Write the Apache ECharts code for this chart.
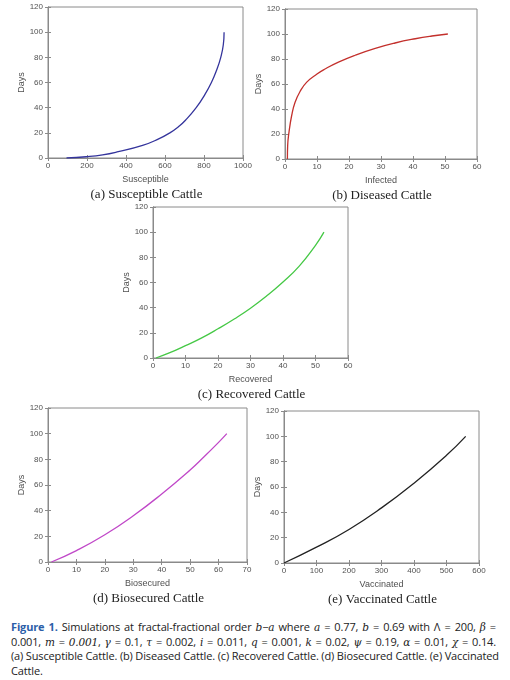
<!DOCTYPE html>
<html>
<head>
<meta charset="utf-8">
<script src="https://cdn.jsdelivr.net/npm/echarts@6/dist/echarts.min.js"></script>
<style>
  html, body { margin: 0; padding: 0; background: #fff; }
  #main { position: absolute; left: 0; top: 0; width: 510px; height: 610px; }
  #caption {
    position: absolute; left: 11px; top: 620px; width: 485px;
    font-family: "Open Sans", "Noto Sans", sans-serif; font-size: 11px;
    line-height: 14.5px; color: #222; letter-spacing: -0.15px;
  }
  #caption div { text-align: justify; text-align-last: justify; white-space: nowrap; }
  #caption div.last { text-align-last: left; }
  #caption b { color: #2b5ea8; }
  #caption i { font-family: "DejaVu Serif", serif; font-size: 10.5px; }
</style>
</head>
<body>
<div id="main"></div>
<div id="caption">
  <div><b>Figure 1.</b> Simulations at fractal-fractional order <i>b</i>−<i>a</i> where <i>a</i> = 0.77, <i>b</i> = 0.69 with Λ = 200, <i>β</i> =</div>
  <div>0.001, <i>m</i> = <i>0.001</i>, <i>γ</i> = 0.1, <i>τ</i> = 0.002, <i>i</i> = 0.011, <i>q</i> = 0.001, <i>k</i> = 0.02, <i>ψ</i> = 0.19, <i>α</i> = 0.01, <i>χ</i> = 0.14.</div>
  <div>(a) Susceptible Cattle. (b) Diseased Cattle. (c) Recovered Cattle. (d) Biosecured Cattle. (e) Vaccinated</div>
  <div class="last">Cattle.</div>
</div>
<script>
// values, x = compartment size, y = days
const sDays = [0, 1, 2.5, 5, 10, 15, 20, 25, 30, 40, 50, 60, 70, 80, 90, 100];
const susceptible = [95, 195, 280, 360, 485, 565, 625, 670, 705, 760, 803, 838, 865, 886, 899, 903];

const iDays = [0, 10.7, 21.5, 35, 45, 54, 61.5, 68, 72, 77.5, 83, 88.5, 92.8, 96.2, 98.4, 100];
const infected = [0.75, 0.83, 1.25, 2.1, 3.1, 4.7, 6.8, 10, 12.5, 16.7, 21.9, 28.2, 34.4, 40.7, 45.9, 50.9];

const rDays = [0, 4, 9.8, 16, 23.2, 31, 39.6, 49.4, 60.4, 73, 89.5, 100];
const recovered = [0.9, 5, 10, 15, 20, 25, 30, 35, 40, 45, 50, 52.6];

const bDays = [0, 8.9, 21.2, 36, 53, 71.5, 82, 93.2, 100];
const biosecured = [1.2, 10, 20, 30, 40, 49.9, 54.9, 60, 62.9];

const vDays = [0, 12.5, 26.5, 43.5, 63, 85, 100];
const vaccinated = [0, 100, 200, 300, 400, 500, 559];

const dayTicks = { min: 0, max: 120, interval: 20 };

const panels = [
  { name: 'Susceptible', x: susceptible, y: sDays, color: '#34349c', xmax: 1000, xint: 200,
    grid: { left: 48, top: 7, width: 195, height: 151 }, cap: '(a) Susceptible Cattle' },
  { name: 'Infected', x: infected, y: iDays, color: '#c3302c', xmax: 60, xint: 10,
    grid: { left: 285, top: 9, width: 192, height: 150 }, cap: '(b) Diseased Cattle' },
  { name: 'Recovered', x: recovered, y: rDays, color: '#45c845', xmax: 60, xint: 10,
    grid: { left: 153, top: 207, width: 195, height: 151 }, cap: '(c) Recovered Cattle' },
  { name: 'Biosecured', x: biosecured, y: bDays, color: '#c048c8', xmax: 70, xint: 10,
    grid: { left: 48, top: 408, width: 199, height: 154 }, cap: '(d) Biosecured Cattle' },
  { name: 'Vaccinated', x: vaccinated, y: vDays, color: '#222222', xmax: 600, xint: 100,
    grid: { left: 284, top: 411, width: 195, height: 152 }, cap: '(e) Vaccinated Cattle' }
];

const labelStyle = { color: '#505050', fontSize: 8, fontFamily: 'Liberation Sans, Arial, sans-serif' };
const nameStyle = { color: '#505050', fontSize: 9, fontFamily: 'Liberation Sans, Arial, sans-serif' };
const lineGray = { color: '#8a8a8a', width: 1 };

let grids = [], xAxes = [], yAxes = [], series = [], titles = [];

panels.forEach(function (p, i) {
  grids.push(Object.assign({ show: true, borderColor: '#8a8a8a', borderWidth: 1, backgroundColor: '#fff' }, p.grid));
  // bottom axis with labels
  xAxes.push({
    type: 'value', gridIndex: i, min: 0, max: p.xmax, interval: p.xint, position: 'bottom',
    name: p.name, nameLocation: 'middle', nameGap: 17, nameTextStyle: nameStyle,
    axisLine: { show: true, lineStyle: lineGray },
    axisTick: { show: true, inside: true, length: 3, lineStyle: lineGray },
    axisLabel: Object.assign({ margin: 4, formatter: function (v) { return String(v); } }, labelStyle),
    splitLine: { show: false }
  });
  // top axis, ticks only
  xAxes.push({
    type: 'value', gridIndex: i, min: 0, max: p.xmax, interval: p.xint, position: 'top',
    axisLine: { show: true, lineStyle: lineGray },
    axisTick: { show: true, inside: true, length: 3, lineStyle: lineGray },
    axisLabel: { show: false }, splitLine: { show: false }
  });
  yAxes.push({
    type: 'value', gridIndex: i, min: dayTicks.min, max: dayTicks.max, interval: dayTicks.interval, position: 'left',
    name: 'Days', nameLocation: 'middle', nameGap: 22, nameTextStyle: nameStyle,
    axisLine: { show: true, lineStyle: lineGray },
    axisTick: { show: true, inside: true, length: 3, lineStyle: lineGray },
    axisLabel: Object.assign({ margin: 5 }, labelStyle),
    splitLine: { show: false }
  });
  yAxes.push({
    type: 'value', gridIndex: i, min: dayTicks.min, max: dayTicks.max, interval: dayTicks.interval, position: 'right',
    axisLine: { show: true, lineStyle: lineGray },
    axisTick: { show: true, inside: true, length: 3, lineStyle: lineGray },
    axisLabel: { show: false }, splitLine: { show: false }
  });
  series.push({
    type: 'line', xAxisIndex: i * 2, yAxisIndex: i * 2,
    data: p.x.map(function (v, k) { return [v, p.y[k]]; }),
    showSymbol: false, smooth: 0.5,
    lineStyle: { color: p.color, width: 1.3 }, silent: true
  });
  titles.push({
    text: p.cap,
    left: p.grid.left + p.grid.width / 2 - 4,
    top: p.grid.top + p.grid.height + 25,
    textAlign: 'center',
    textStyle: { fontFamily: 'Liberation Serif, DejaVu Serif, serif', fontSize: 13, fontWeight: 'normal', color: '#222' }
  });
});

const chart = echarts.init(document.getElementById('main'), null, { renderer: 'canvas' });
chart.setOption({
  animation: false,
  title: titles,
  grid: grids,
  xAxis: xAxes,
  yAxis: yAxes,
  series: series
});
</script>
</body>
</html>
